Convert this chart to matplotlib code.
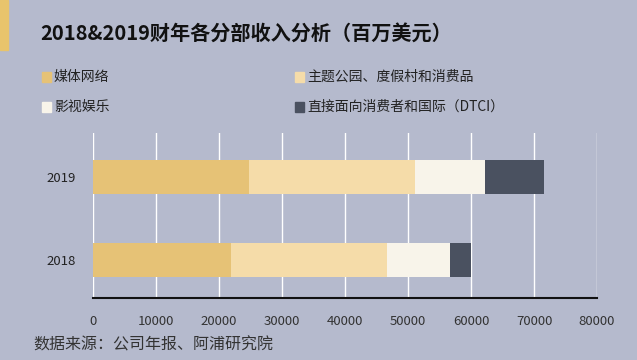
import matplotlib.pyplot as plt
from matplotlib.patches import Rectangle

plt.rcParams['font.family'] = ['Noto Sans CJK SC', 'DejaVu Sans']

years = ['2018', '2019']
segments = ['媒体网络', '主题公园、度假村和消费品', '影视娱乐', '直接面向消费者和国际（DTCI）']
media = [21922, 24827]
parks = [24701, 26225]
studio = [9987, 11127]
dtci = [3414, 9349]
ticks = [0, 10000, 20000, 30000, 40000, 50000, 60000, 70000, 80000]

colors = ['#e6c276', '#f5dca9', '#f8f4ea', '#4a5160']
bg = '#b5bacd'

fig = plt.figure(figsize=(6.37, 3.6), dpi=100)
fig.patch.set_facecolor(bg)

# gold stripe at top left
fig.patches.append(Rectangle((0, 1 - 50 / 360), 8 / 637, 50 / 360,
                             transform=fig.transFigure, color='#e8c46c', zorder=0))

fig.text(40 / 637, 1 - 33 / 360, '2018&2019财年各分部收入分析（百万美元）',
         fontsize=14.5, fontweight='bold', color='#111111', va='center')

ax = fig.add_axes([93 / 637, 1 - 298 / 360, 504 / 637, 165 / 360])
ax.set_facecolor(bg)

ypos = [0, 1]
left = [0, 0]
for vals, c in zip([media, parks, studio, dtci], colors):
    ax.barh(ypos, vals, left=left, height=0.41, color=c, zorder=3)
    left = [l + v for l, v in zip(left, vals)]

ax.set_xlim(0, 80000)
ax.set_ylim(-0.458, 1.53)
ax.set_xticks(ticks)
ax.set_xticklabels([str(t) for t in ticks], fontsize=9.5, color='#333333')
ax.set_yticks(ypos)
ax.set_yticklabels(years, fontsize=9.5, color='#222222')
ax.tick_params(length=0, pad=12)
ax.tick_params(axis='y', pad=12)
ax.grid(axis='x', color='white', linewidth=1, zorder=0)
for s in ['top', 'right', 'left']:
    ax.spines[s].set_visible(False)
ax.spines['bottom'].set_color('#111111')
ax.spines['bottom'].set_linewidth(1.5)

# legend
leg_pos = [(42, 77), (295, 77), (42, 107), (295, 107)]
for (x, y), name, c in zip(leg_pos, segments, colors):
    fig.patches.append(Rectangle((x / 637, 1 - (y + 5) / 360), 9 / 637, 10 / 360,
                                 transform=fig.transFigure, color=c))
    fig.text((x + 12) / 637, 1 - y / 360, name, fontsize=10, color='#222222', va='center')

fig.text(33 / 637, 1 - 345 / 360, '数据来源：公司年报、阿浦研究院',
         fontsize=11.5, color='#333333', va='center')

fig.savefig('out.png', dpi=100, facecolor=bg)
